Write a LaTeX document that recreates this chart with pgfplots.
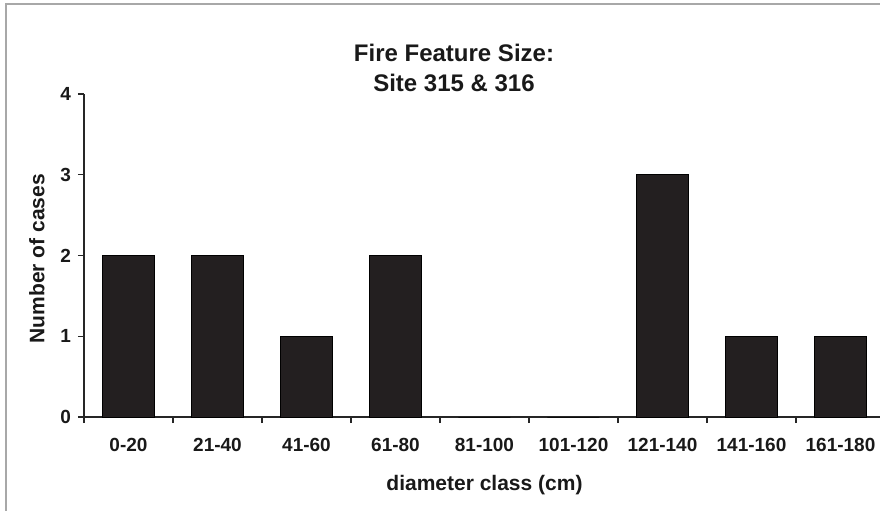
\documentclass[border=0pt]{standalone}
\usepackage{pgfplots}
\pgfplotsset{compat=1.18}
\usepackage{fontspec}
\setmainfont{Liberation Sans}
\definecolor{barfill}{HTML}{231F20}
\definecolor{framegray}{HTML}{A8A8A8}
\begin{document}
\begin{tikzpicture}[x=1pt,y=1pt]
\path[use as bounding box] (0,0) rectangle (440,255);
\draw[color=framegray, line width=1pt] (3,-2) -- (3,253) -- (445,253);
\begin{axis}[
  at={(42pt,46.5pt)}, anchor=south west,
  scale only axis, width=400.5pt, height=161.5pt,
  xmin=-0.5, xmax=8.5, ymin=0, ymax=4,
  enlargelimits=false,
  ybar, bar width=26pt,
  axis x line=bottom, axis y line=left,
  axis line style={-, line width=0.6pt, color=black!85},
  xtick={-0.5,0.5,...,8.5},
  x tick label as interval,
  xticklabels={0-20,21-40,41-60,61-80,81-100,101-120,121-140,141-160,161-180},
  ytick={0,1,2,3,4},
  tick align=outside,
  major tick length=3pt,
  tick style={black!85, line width=0.6pt},
  /pgf/number format/assume math mode=true,
  ticklabel style={font=\bfseries\fontsize{9.5}{11}\selectfont, color=black!90},
  xticklabel style={yshift=-4pt},
  xlabel={diameter class (cm)},
  ylabel={Number of cases},
  label style={font=\bfseries\fontsize{10.5}{12}\selectfont, color=black!90},
  xlabel style={anchor=base, at={(axis description cs:0.5,0)}, yshift=-36.5pt},
  ylabel style={anchor=center, at={(axis description cs:-0.0587,0.49)}},
]
\addplot[fill=barfill, draw=black, line width=0.4pt] coordinates {
 (0,2) (1,2) (2,1) (3,2) (4,0) (5,0) (6,3) (7,1) (8,1)
};
\end{axis}
\node[anchor=base, font=\bfseries\fontsize{12}{14}\selectfont, color=black!90] at (227,224) {Fire Feature Size:};
\node[anchor=base, font=\bfseries\fontsize{12}{14}\selectfont, color=black!90] at (227,209) {Site 315 \& 316};
\end{tikzpicture}
\end{document}
